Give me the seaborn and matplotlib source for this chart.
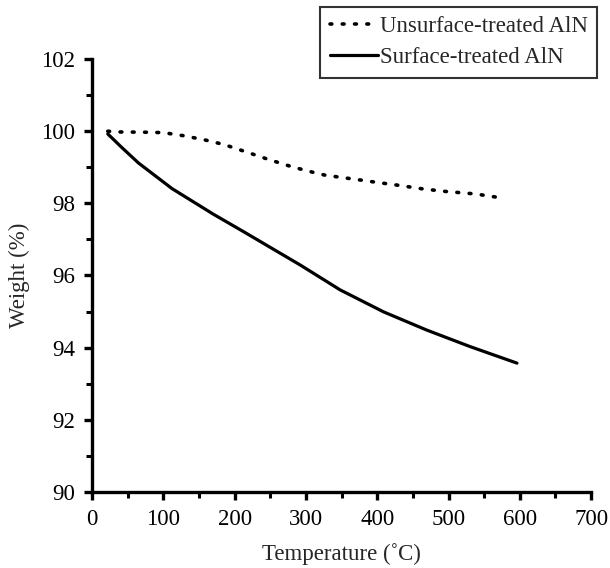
import pandas as pd
import matplotlib.pyplot as plt
import seaborn as sns
from matplotlib.ticker import MultipleLocator

# Values
temp_untreated = [22, 35, 81, 100, 130, 160, 185, 217, 247, 281, 310, 327, 368, 400, 430, 464, 496, 538, 571]
weight_untreated = [100.0, 99.98, 99.97, 99.96, 99.87, 99.75, 99.63, 99.42, 99.22, 99.01, 98.86, 98.78,
                    98.67, 98.58, 98.50, 98.40, 98.33, 98.26, 98.16]

temp_treated = [22, 22, 41, 65, 112, 170, 212, 292, 348, 409, 469, 530, 596]
weight_treated = [100.0, 99.85, 99.56, 99.12, 98.41, 97.7, 97.22, 96.29, 95.6, 94.99, 94.49, 94.03, 93.57]

label_untreated = 'Unsurface-treated AlN'
label_treated = 'Surface-treated AlN'

sns.set_style('ticks')
plt.rcParams['font.family'] = ['Liberation Serif', 'DejaVu Serif']

fig = plt.figure(figsize=(6.1, 5.68), dpi=100)
ax = fig.add_axes([0.151, 0.134, 0.818, 0.762])

df_u = pd.DataFrame({'Temperature': temp_untreated, 'Weight': weight_untreated})
df_t = pd.DataFrame({'Temperature': temp_treated, 'Weight': weight_treated})

sns.lineplot(data=df_u, x='Temperature', y='Weight', ax=ax, color='black', lw=2.6,
             sort=False, label=label_untreated, dashes=False)
sns.lineplot(data=df_t, x='Temperature', y='Weight', ax=ax, color='black', lw=2.3,
             sort=False, label=label_treated, dashes=False)
ax.lines[0].set_linestyle((0, (0.5, 2.9)))
ax.lines[0].set_dash_capstyle('round')

ax.set_xlim(0, 700)
ax.set_ylim(90, 102)
ax.xaxis.set_major_locator(MultipleLocator(100))
ax.xaxis.set_minor_locator(MultipleLocator(50))
ax.yaxis.set_major_locator(MultipleLocator(2))
ax.yaxis.set_minor_locator(MultipleLocator(1))

for side in ['top', 'right']:
    ax.spines[side].set_visible(False)
for side in ['left', 'bottom']:
    ax.spines[side].set_linewidth(2.4)
    ax.spines[side].set_color('black')

ax.tick_params(which='major', length=6, width=2.4, labelsize=16.5, pad=6, colors='black')
ax.tick_params(which='minor', length=4, width=2.2, colors='black')

ax.set_xlabel('Temperature (˚C)', fontsize=16.5, labelpad=10)
ax.set_ylabel('Weight (%)', fontsize=16.5, labelpad=8)

leg = ax.legend(loc='upper right', bbox_to_anchor=(0.979, 0.988), bbox_transform=fig.transFigure,
                fontsize=16.5, frameon=True, fancybox=False, handlelength=2.1, handletextpad=0.1,
                borderpad=0.4, labelspacing=0.45, borderaxespad=0)
leg.get_frame().set_edgecolor('black')
leg.get_frame().set_linewidth(1.5)

plt.savefig('out.png', dpi=100)
